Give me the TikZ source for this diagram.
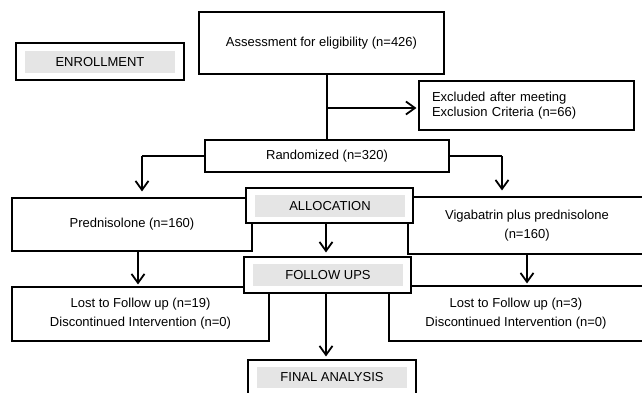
\documentclass[tikz,border=0pt]{standalone}
\usepackage{fontspec}
\setmainfont{Liberation Sans}
\usetikzlibrary{arrows.meta}

\begin{document}
\begin{tikzpicture}
  [x=1pt,y=-1pt,
   every node/.style={font=\fontsize{13}{15}\selectfont,inner sep=0pt},
   box/.style={draw,line width=1.1pt,fill=white},
   stage/.style={fill=black!10,minimum width=150pt,minimum height=22pt},
   flow/.style={line width=1.8pt,-{Straight Barb[length=9pt,width=13pt,line width=1.8pt]}},
   link/.style={line width=1.6pt}]
  \useasboundingbox (0,0) rectangle (642,393);
  \clip (0,0) rectangle (642,393);

  \node[box,minimum width=168pt,minimum height=37pt] (enrollbox) at (100,61.5) {};
  \node[stage] (enroll) at (100,62) {ENROLLMENT};

  \node[box,minimum width=245pt,minimum height=62pt] (assess) at (321.5,43) {Assessment for eligibility (n=426)};
  \node[box,minimum width=215pt,minimum height=49pt,text width=189pt,inner xsep=13pt,align=left] (excl) at (526.5,105.5)
    {Excluded after meeting\\Exclusion Criteria (n=66)};
  \node[box,minimum width=244pt,minimum height=32pt] (rand) at (327,156) {Randomized (n=320)};

  \node[box,minimum width=240pt,minimum height=53pt] (pred) at (132,224.5) {Prednisolone (n=160)};
  \node[box,minimum width=238pt,minimum height=57pt,align=center] (viga) at (527,225.5)
    {Vigabatrin plus prednisolone\\[4pt](n=160)};
  \node[box,minimum width=167pt,minimum height=35pt] (allocbox) at (329.5,205.5) {};
  \node[stage] (alloc) at (330,206) {ALLOCATION};

  \node[box,minimum width=257pt,minimum height=54pt,align=center] (lostl) at (140.5,314)
    {Lost to Follow up (n=19)\\[4pt]Discontinued Intervention (n=0)};
  \node[box,minimum width=254pt,minimum height=55pt,align=center] (lostr) at (516,313.5)
    {Lost to Follow up (n=3)\\[4pt]Discontinued Intervention (n=0)};
  \node[box,minimum width=167pt,minimum height=36pt] (fubox) at (327.5,275) {};
  \node[stage] (fu) at (328,275) {FOLLOW UPS};

  \node[box,minimum width=168pt,minimum height=35pt] (finalbox) at (332,377.5) {};
  \node[stage,minimum height=21pt] (final) at (332,377.5) {FINAL ANALYSIS};

  \coordinate (lsplit) at (142,156);
  \coordinate (rsplit) at (502,156);
  \coordinate (xsplit) at (327,108);
  \coordinate (csplit) at (326,0);
  \coordinate (lcol) at (138,0);

  \draw[link] (assess.south -| rand.north) -- (rand.north);
  \draw[flow,shorten >=2pt] (xsplit) -- (excl.west |- xsplit);
  \draw[link] (rand.west) -- (lsplit);
  \draw[flow,shorten >=6pt] (lsplit) -- (lsplit |- pred.north);
  \draw[link] (rand.east) -- (rsplit);
  \draw[flow,shorten >=6pt] (rsplit) -- (rsplit |- viga.north);
  \draw[flow,shorten >=2pt] (lcol |- pred.south) -- (lcol |- lostl.north);
  \draw[flow,shorten >=2pt] (viga.south) -- (viga.south |- lostr.north);
  \draw[flow,shorten >=4pt] (csplit |- allocbox.south) -- (csplit |- fubox.north);
  \draw[flow,shorten >=3pt] (csplit |- fubox.south) -- (csplit |- finalbox.north);

\end{tikzpicture}
\end{document}
